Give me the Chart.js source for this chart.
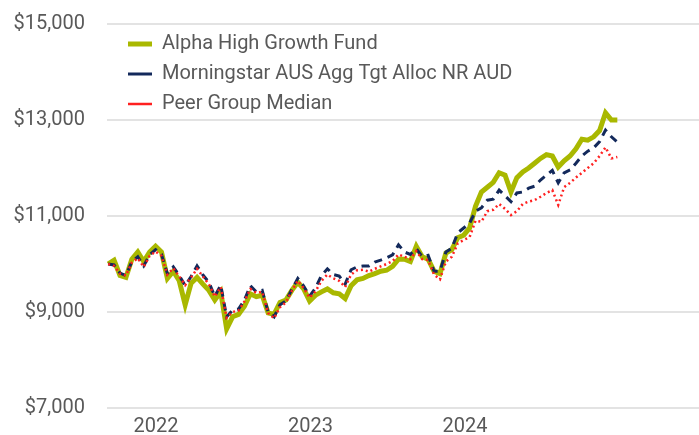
<!DOCTYPE html>
<html>
<head>
  <title>Growth of $10,000</title>
  <style>
    body { margin: 0; background: #fff; }
    canvas { display: block; }
  </style>
</head>
<body>
  <canvas id="growth" width="699" height="435"></canvas>

  <script src="https://cdn.jsdelivr.net/npm/chart.js"></script>
  <script>
    // fortnightly points, first one on 10 Sep 2021
    const START = new Date(2021, 8, 10);
    const STEP_DAYS = 14;
    const yearTicks = [2022, 2023, 2024];

    const fund = [10000, 10080, 9760, 9720, 10100, 10250, 10050, 10250, 10370, 10250,
      9700, 9850, 9650, 9150, 9600, 9720, 9580, 9450, 9250, 9420,
      8650, 8900, 8950, 9120, 9380, 9320, 9350, 8980, 8950, 9200,
      9250, 9450, 9620, 9480, 9230, 9350, 9420, 9480, 9400, 9380,
      9280, 9550, 9670, 9700, 9760, 9800, 9850, 9870, 9950, 10100,
      10100, 10050, 10370, 10150, 10100, 9850, 9800, 10230, 10300, 10550,
      10600, 10750, 11200, 11500, 11600, 11700, 11900, 11850, 11500, 11800,
      11920, 12000, 12100, 12200, 12280, 12250, 12020, 12150, 12250, 12400,
      12600, 12580, 12650, 12780, 13150, 13000, 13000];

    const benchmark = [10000, 9980, 9810, 9760, 10050, 10150, 9960, 10190, 10300, 10200,
      9800, 9940, 9760, 9550, 9740, 9960, 9770, 9620, 9330, 9560,
      8900, 9040, 9060, 9250, 9550, 9420, 9450, 9000, 8900, 9150,
      9230, 9470, 9700, 9540, 9330, 9500, 9760, 9900, 9780, 9750,
      9580, 9880, 9940, 9960, 9960, 10040, 10080, 10130, 10190, 10400,
      10250, 10200, 10320, 10150, 10180, 9850, 9850, 10250, 10330, 10650,
      10750, 10850, 11100, 11170, 11330, 11350, 11540, 11420, 11300, 11480,
      11500, 11580, 11620, 11750, 11850, 11950, 11690, 11900, 11960, 12100,
      12250, 12350, 12420, 12550, 12790, 12650, 12540];

    const peers = [10000, 9960, 9800, 9760, 10030, 10120, 9940, 10170, 10260, 10170,
      9780, 9910, 9740, 9560, 9720, 9900, 9740, 9580, 9320, 9520,
      8880, 9000, 9030, 9220, 9480, 9400, 9420, 8980, 8870, 9100,
      9200, 9440, 9650, 9500, 9300, 9430, 9650, 9780, 9700, 9650,
      9520, 9780, 9870, 9880, 9840, 9900, 9950, 10000, 10060, 10200,
      10150, 10100, 10270, 10100, 10080, 9780, 9680, 10050, 10150, 10430,
      10500, 10560, 10900, 10880, 11100, 11130, 11250, 11150, 11020, 11100,
      11250, 11300, 11330, 11400, 11480, 11540, 11230, 11600, 11690, 11800,
      11900, 12000, 12100, 12250, 12430, 12200, 12230];

    // date -> decimal year for the linear x axis
    function toYear(d) {
      const y0 = new Date(d.getFullYear(), 0, 1);
      const y1 = new Date(d.getFullYear() + 1, 0, 1);
      return d.getFullYear() + (d - y0) / (y1 - y0);
    }
    const dates = fund.map((_, i) => new Date(START.getTime() + i * STEP_DAYS * 86400000));
    const xs = dates.map(toYear);
    const pts = arr => arr.map((v, i) => ({ x: xs[i], y: v }));

    const textColor = '#595959';
    const font = { family: 'Roboto', size: 20 };

    // put the legend inside the plot, top left, like the original
    const legendNudge = {
      id: 'legendNudge',
      afterLayout(chart) {
        chart.legend.left = chart.chartArea.left + 11;
        chart.legend.top = chart.chartArea.top;
      }
    };

    new Chart(document.getElementById('growth'), {
      type: 'line',
      data: {
        datasets: [
          {
            label: 'Alpha High Growth Fund',
            data: pts(fund),
            borderColor: '#a9b800',
            backgroundColor: '#a9b800',
            borderWidth: 5,
            order: 3
          },
          {
            label: 'Morningstar AUS Agg Tgt Alloc NR AUD',
            data: pts(benchmark),
            borderColor: '#13295b',
            backgroundColor: '#13295b',
            borderWidth: 3,
            borderDash: [8, 6],
            order: 2
          },
          {
            label: 'Peer Group Median',
            data: pts(peers),
            borderColor: '#ff2020',
            backgroundColor: '#ff2020',
            borderWidth: 2.5,
            borderDash: [2, 3],
            order: 1
          }
        ]
      },
      options: {
        responsive: false,
        animation: false,
        layout: { padding: { top: 24, right: 0, bottom: 0, left: 0 } },
        elements: { point: { radius: 0 }, line: { tension: 0 } },
        plugins: {
          legend: {
            position: 'chartArea',
            align: 'start',
            labels: {
              usePointStyle: true,
              pointStyle: 'line',
              pointStyleWidth: 24,
              padding: 10,
              color: textColor,
              font: font,
              sort: (a, b) => a.datasetIndex - b.datasetIndex
            }
          },
          tooltip: { enabled: false }
        },
        scales: {
          x: {
            type: 'linear',
            min: 2021.683,
            max: 2025.515,
            afterBuildTicks: s => { s.ticks = yearTicks.map(v => ({ value: v })); },
            afterFit: s => { s.height = 27; },
            grid: { display: false },
            border: { display: false },
            ticks: {
              padding: -1,
              color: textColor,
              font: font,
              autoSkip: false,
              maxRotation: 0,
              callback: v => String(v)
            }
          },
          y: {
            min: 7000,
            max: 15000,
            // fixed width; tick padding must not push the plot in vertically
            afterFit: s => { s.width = 107; s.paddingTop = 0; s.paddingBottom = 0; },
            grid: { color: '#e3e3e3', lineWidth: 2, drawTicks: false },
            border: { display: false },
            ticks: {
              stepSize: 2000,
              padding: 22,
              color: textColor,
              font: font,
              callback: v => '$' + v.toLocaleString('en-US')
            }
          }
        }
      },
      plugins: [legendNudge]
    });
  </script>
</body>
</html>
